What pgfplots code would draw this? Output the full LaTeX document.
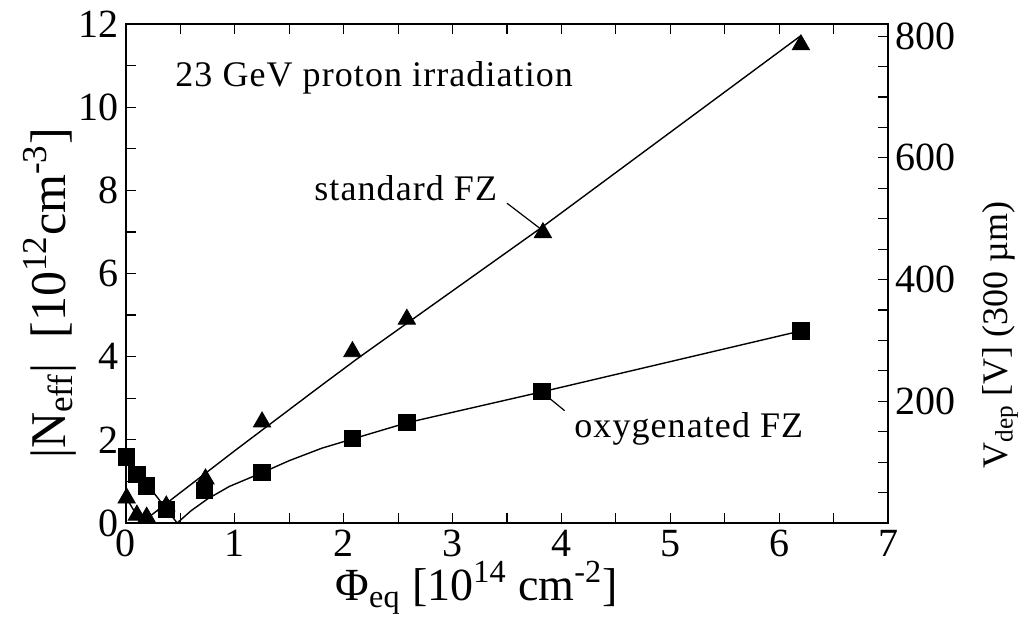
\documentclass[border=0pt]{standalone}
\usepackage{fontspec}
\setmainfont{Liberation Serif}
\newfontfamily\spaced[LetterSpace=3]{Liberation Serif}
\usepackage{pgfplots}
\pgfplotsset{compat=1.18}
\begin{document}
\begin{tikzpicture}
\pgfplotsset{
  every axis/.append style={
    width=381pt, height=249.5pt, scale only axis,
    at={(0,0)}, anchor=south west,
    axis line style={line width=1.2pt},
    tick style={line width=0.6pt, black},
    major tick length=5pt, minor tick length=5pt,
    tick label style={font=\fontsize{20}{24}\selectfont},
    /pgf/number format/assume math mode=true,
  }
}
\useasboundingbox (-63pt,-47pt) rectangle (450.5pt,261.5pt);
\begin{axis}[
  xmin=0, xmax=7, ymin=0, ymax=12,
  xtick={0,...,7}, ytick={0,2,...,12},
  minor x tick num=1, minor y tick num=1,
  xtick pos=both, ytick pos=left,
  xlabel={Φ\textsubscript{eq} [10\textsuperscript{14} cm\textsuperscript{-2}]},
  xlabel style={font=\fontsize{23}{27}\selectfont, at={(axis description cs:0.46,-0.13)}, anchor=center},
  ylabel={|N\textsubscript{eff}|\enspace[10\textsuperscript{12}cm\textsuperscript{-3}]},
  ylabel style={font=\fontsize{25}{30}\selectfont, at={(axis description cs:-0.10,0.46)}, anchor=center},
  clip=false,
]
% fit curves
\addplot[black, line width=0.7pt] coordinates {
  (0,0.62) (0.14,0) (0.37,0.47) (1.0,1.74) (1.78,3.28) (2.15,4.0) (3.83,7.13) (6.2,11.72)
};
\addplot[black, line width=0.7pt] coordinates {
  (0,1.59) (0.47,0) (0.6,0.30) (0.75,0.58) (0.95,0.88) (1.25,1.21)
  (1.5,1.5) (1.8,1.8) (2.08,2.02) (2.58,2.41) (3.83,3.16) (6.2,4.62)
};
% standard FZ
\addplot[only marks, mark=triangle*, mark size=5pt, black] coordinates {
  (0.006,0.60) (0.10,0.19) (0.19,0.14) (0.37,0.41) (0.73,1.06)
  (1.25,2.43) (2.08,4.12) (2.58,4.90) (3.83,6.98) (6.20,11.50)
};
% oxygenated FZ
\addplot[only marks, mark=square*, mark size=4.1pt, black] coordinates {
  (0.006,1.59) (0.10,1.17) (0.19,0.89) (0.37,0.33) (0.72,0.79)
  (1.25,1.21) (2.08,2.04) (2.58,2.42) (3.82,3.16) (6.20,4.62)
};
\draw[line width=0.6pt] (axis cs:3.50,7.69) -- (axis cs:3.83,7.03);
\draw[line width=0.6pt] (axis cs:3.89,3.00) -- (axis cs:4.03,2.70);
\node[font=\fontsize{18}{22}\selectfont\spaced] at (axis cs:2.28,10.70) {23 GeV proton irradiation};
\node[font=\fontsize{18}{22}\selectfont\spaced] at (axis cs:2.57,8.06) {standard FZ};
\node[font=\fontsize{18}{22}\selectfont\spaced] at (axis cs:5.17,2.26) {oxygenated FZ};
\end{axis}
\begin{axis}[
  xmin=0, xmax=7, ymin=0, ymax=820,
  axis x line=none, axis y line*=right,
  ytick={0,200,...,800}, yticklabels={,200,400,600,800},
  minor y tick num=3,
  ylabel={V\textsubscript{dep} [V] (300 µm)},
  ylabel style={font=\fontsize{18}{22}\selectfont, at={(axis description cs:1.147,0.377)}, anchor=center, rotate=0},
]
\end{axis}
\end{tikzpicture}
\end{document}
